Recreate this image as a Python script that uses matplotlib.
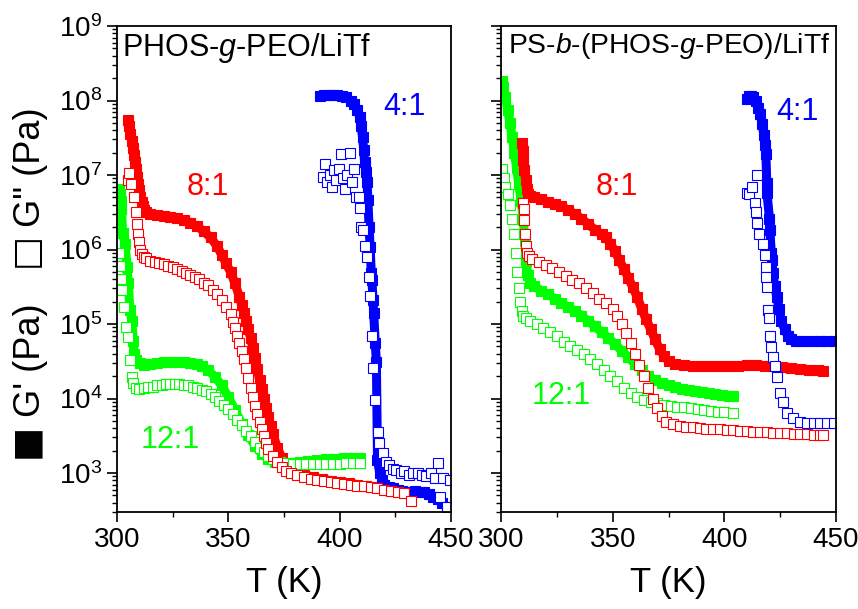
import matplotlib
matplotlib.use("Agg")
import matplotlib.pyplot as plt
from matplotlib.ticker import NullFormatter, LogFormatterMathtext

plt.rcParams['font.family'] = ['Liberation Sans', 'DejaVu Sans']
plt.rcParams['mathtext.fontset'] = 'custom'
plt.rcParams['mathtext.rm'] = 'Liberation Sans'
plt.rcParams['mathtext.it'] = 'Liberation Sans:italic'

RED, GREEN, BLUE = '#ff0000', '#00ff00', '#0000ff'

# ---- left panel: PHOS-g-PEO/LiTf ----
# 8:1
L8_T_gp = [305, 305.5, 306, 306.5, 307, 307.5, 308, 308.5, 309, 309.5, 310, 310.5, 311, 311.5, 312, 313,
           315, 318, 321, 324, 327, 330, 333, 336, 339, 342, 345, 347, 349, 351, 353, 355, 356, 357, 358,
           359, 360, 361, 362, 363, 364, 365, 366, 367, 368, 369, 370, 372, 374, 377, 380, 384, 388, 392,
           396, 400, 404, 408, 412, 416, 420, 424]
L8_gp = [5.5e7, 4.5e7, 3.6e7, 2.9e7, 2.3e7, 1.85e7, 1.5e7, 1.2e7, 9.5e6, 7.6e6, 6.2e6, 5.1e6, 4.3e6, 3.8e6,
         3.4e6, 3.2e6, 3.0e6, 2.9e6, 2.8e6, 2.75e6, 2.65e6, 2.5e6, 2.3e6, 2.05e6, 1.75e6, 1.45e6, 1.1e6,
         8.5e5, 6.5e5, 5e5, 3.5e5, 2.3e5, 1.8e5, 1.4e5, 1.1e5, 8.5e4, 6.5e4, 4.8e4, 3.5e4, 2.5e4, 1.8e4,
         1.35e4, 1.0e4, 7.5e3, 5.6e3, 4.3e3, 3.3e3, 2.2e3, 1.6e3, 1.25e3, 1.05e3, 950, 880, 830, 790, 760,
         730, 700, 670, 640, 610, 570]
L8_T_gpp = [304.8, 305.5, 306.3, 307.5, 308.3, 309, 309.5, 310, 310.5, 311, 312, 313, 315, 317, 319, 321,
            323, 325, 327, 329, 331, 333, 335, 337, 339, 341, 343, 345, 347, 349, 351, 352, 353, 354, 355,
            356, 357, 358, 359, 360, 361, 362, 363, 364, 365, 366, 367, 368, 370, 372, 374, 376, 378, 381,
            384, 387, 390, 393, 396, 399, 402, 405, 408, 411, 414, 417, 420, 423, 426, 429, 432]
L8_gpp = [8.5e6, 1.05e7, 7.5e6, 5e6, 3.2e6, 2.2e6, 1.6e6, 1.25e6, 1.0e6, 8.8e5, 8e5, 7.6e5, 7.1e5, 6.8e5,
          6.6e5, 6.3e5, 6.1e5, 5.8e5, 5.5e5, 5.2e5, 4.9e5, 4.6e5, 4.3e5, 4.0e5, 3.6e5, 3.3e5, 2.9e5, 2.5e5,
          2.1e5, 1.7e5, 1.35e5, 1.05e5, 8.8e4, 7e4, 5.6e4, 4.4e4, 3.4e4, 2.6e4, 1.9e4, 1.4e4, 1.05e4, 8e3,
          6.2e3, 4.9e3, 3.9e3, 3.1e3, 2.5e3, 2.1e3, 1.7e3, 1.4e3, 1.2e3, 1.08e3, 1.0e3, 930, 880, 840, 810,
          780, 760, 740, 720, 700, 680, 660, 640, 620, 600, 580, 560, 540, 420]
# 12:1
L12_T_gp = [301, 301.3, 301.6, 302, 302.5, 303.6, 304.5, 305, 305.8, 306.7, 307.2, 307.6, 308.5, 310.3,
            312, 315, 318, 321, 324, 327, 330, 333, 336, 338, 341, 344, 347, 350, 353, 356, 359, 362, 365,
            368, 371, 374, 378, 382, 386, 390, 394, 398, 402, 406, 409]
L12_gp = [6.5e6, 5.5e6, 4.5e6, 3.5e6, 1.66e6, 1.2e6, 5.9e5, 3.6e5, 1.55e5, 1.1e5, 6e4, 4e4, 3.3e4, 3e4,
          2.8e4, 2.9e4, 3.0e4, 3.1e4, 3.1e4, 3.1e4, 3.1e4, 3.0e4, 2.9e4, 2.7e4, 2.4e4, 1.95e4, 1.5e4,
          1.05e4, 7e3, 4.6e3, 3.2e3, 2.3e3, 1.8e3, 1.55e3, 1.42e3, 1.38e3, 1.38e3, 1.42e3, 1.45e3, 1.5e3,
          1.52e3, 1.55e3, 1.58e3, 1.6e3, 1.6e3]
L12_T_gpp = [301, 301.3, 301.8, 302.3, 303, 304, 305, 305.8, 306.7, 307.2, 308.7, 310, 312, 314, 316, 318,
             320, 322, 324, 326, 328, 330, 332, 334, 336, 338, 340, 342, 344, 346, 348, 350, 352, 354, 356,
             358, 360, 362, 364, 366, 368, 370, 373, 376, 379, 382, 385, 388, 391, 394, 397, 400, 403, 406,
             409]
L12_gpp = [9e5, 6e5, 4e5, 2.9e5, 1.7e5, 9e4, 6.7e4, 3.3e4, 1.95e4, 1.6e4, 1.4e4, 1.35e4, 1.38e4, 1.42e4,
           1.45e4, 1.5e4, 1.52e4, 1.55e4, 1.55e4, 1.55e4, 1.55e4, 1.52e4, 1.5e4, 1.45e4, 1.4e4, 1.32e4,
           1.25e4, 1.15e4, 1.05e4, 9.3e3, 8.3e3, 7.2e3, 6.2e3, 5.2e3, 4.4e3, 3.7e3, 3.1e3, 2.6e3, 2.2e3,
           1.9e3, 1.7e3, 1.55e3, 1.42e3, 1.36e3, 1.33e3, 1.32e3, 1.32e3, 1.32e3, 1.32e3, 1.33e3, 1.33e3,
           1.34e3, 1.35e3, 1.35e3, 1.35e3]
# 4:1
L4_T_gp = [391, 393, 395, 397, 399, 401, 403, 405, 406.5, 408, 409, 409.7, 410.3, 410.8, 411.2, 411.8,
           412.3, 412.7, 413.2, 413.7, 414.2, 414.5, 415, 415.3, 416, 416.5, 417, 418, 419, 420, 422, 424,
           426, 428, 430, 432, 434, 436, 438, 440, 442, 444, 446, 448, 450]
L4_gp = [1.15e8, 1.18e8, 1.2e8, 1.2e8, 1.18e8, 1.15e8, 1.1e8, 1.0e8, 9e7, 7.5e7, 6e7, 4.5e7, 3.2e7, 2.2e7,
         1.5e7, 1.1e7, 8e6, 4.6e6, 2e6, 1.07e6, 4.8e5, 3.9e5, 2.1e5, 1.4e5, 5.5e4, 3.1e4, 1.5e3, 1.0e3,
         800, 700, 650, 620, 600, 580, 560, 560, 570, 560, 550, 520, 480, 450, 400, 350, 320]
L4_T_gpp = [392.5, 393.5, 394.5, 395.5, 396.5, 397.5, 398.5, 399.5, 400.5, 401.5, 402.5, 403.5, 404.5,
            405.5, 406.5, 407.5, 408.5, 409, 409.7, 410.6, 411.5, 412.3, 413, 413.6, 414.5, 415, 415.8,
            417.2, 417.8, 419.4, 421, 422, 424, 425.5, 427.6, 429, 431, 433, 435, 437, 439, 441, 443, 444,
            445, 446.5, 448, 449.5]
L4_gpp = [9.5e6, 1.4e7, 8e6, 1.0e7, 7e6, 1.15e7, 8.5e6, 1.2e7, 1.9e7, 9e6, 6.5e6, 1.0e7, 2e7, 8e6,
          1.2e7, 5e6, 5e6, 3.6e6, 2e6, 1.8e6, 1.1e6, 7.9e5, 4.3e5, 2.4e5, 7e4, 2.6e4, 9.6e3, 3.5e3, 2.5e3,
          1.85e3, 1.4e3, 1.27e3, 1.15e3, 1.1e3, 1.0e3, 1.05e3, 950, 1.0e3, 1.0e3, 950, 900, 1.0e3, 850,
          1.35e3, 480, 850, 350, 800]

# ---- right panel: PS-b-(PHOS-g-PEO)/LiTf ----
# 8:1
R8_T_gp = [309.4, 309.7, 310, 310.5, 311, 311.5, 312, 313, 315, 318, 321, 324, 327, 330, 333, 336, 339,
           342, 345, 347, 349, 351, 353, 355, 357, 359, 361, 363, 365, 367, 369, 371, 373, 375, 378, 382,
           386, 390, 394, 398, 402, 406, 410, 414, 418, 422, 426, 430, 434, 438, 442, 444]
R8_gp = [2.7e7, 2.1e7, 1.6e7, 1.15e7, 8.5e6, 6.5e6, 5.6e6, 5.2e6, 5e6, 4.7e6, 4.4e6, 4.1e6, 3.8e6, 3.4e6,
         3e6, 2.6e6, 2.2e6, 1.85e6, 1.6e6, 1.45e6, 1.2e6, 9.5e5, 7.2e5, 5.5e5, 4.2e5, 3.1e5, 2.3e5, 1.6e5,
         1.15e5, 8.5e4, 6.2e4, 4.6e4, 3.7e4, 3.2e4, 2.9e4, 2.8e4, 2.75e4, 2.75e4, 2.75e4, 2.75e4, 2.75e4,
         2.75e4, 2.8e4, 2.8e4, 2.75e4, 2.7e4, 2.65e4, 2.6e4, 2.5e4, 2.45e4, 2.4e4, 2.35e4]
R8_T_gpp = [309.8, 310.2, 310.5, 310.7, 311, 311.5, 312.5, 314, 317, 320, 323, 326, 329, 332, 335, 338,
            341, 344, 347, 350, 352, 354, 356, 358, 360, 362, 364, 366, 368, 370, 372, 374, 377, 380, 383,
            386, 389, 392, 395, 398, 401, 404, 407, 410, 413, 416, 419, 422, 425, 428, 431, 434, 437, 440,
            443, 444]
R8_gpp = [4.2e6, 3.5e6, 2.5e6, 1.6e6, 1.1e6, 9e5, 8.2e5, 7.5e5, 6.8e5, 6.2e5, 5.6e5, 5e5, 4.4e5, 3.9e5,
          3.5e5, 3.0e5, 2.6e5, 2.2e5, 1.9e5, 1.6e5, 1.3e5, 1.0e5, 7.5e4, 5.5e4, 3.9e4, 2.8e4, 2e4, 1.4e4,
          1.0e4, 7.5e3, 5.8e3, 4.9e3, 4.5e3, 4.3e3, 4.2e3, 4.1e3, 4.0e3, 3.95e3, 3.9e3, 3.85e3, 3.8e3,
          3.75e3, 3.7e3, 3.65e3, 3.6e3, 3.55e3, 3.5e3, 3.48e3, 3.45e3, 3.4e3, 3.38e3, 3.35e3, 3.3e3, 3.28e3,
          3.25e3, 3.25e3]
# 12:1
R12_T_gp = [300.3, 301, 302, 303, 304, 305, 306, 307, 308, 309, 310, 310.7, 311.3, 312, 313, 315, 318,
            321, 324, 327, 330, 333, 336, 339, 342, 345, 348, 351, 354, 357, 360, 363, 366, 369, 372, 375,
            378, 381, 384, 387, 390, 393, 396, 399, 402, 404]
R12_gp = [1.8e8, 1.5e8, 1.1e8, 7.5e7, 5e7, 3.2e7, 2e7, 1.25e7, 7.5e6, 4.5e6, 2.5e6, 1.3e6, 7e5, 4.5e5,
          3.6e5, 3.2e5, 2.8e5, 2.5e5, 2.2e5, 1.9e5, 1.7e5, 1.5e5, 1.3e5, 1.1e5, 9.3e4, 7.8e4, 6.5e4, 5.4e4,
          4.4e4, 3.6e4, 2.9e4, 2.4e4, 2.0e4, 1.75e4, 1.6e4, 1.5e4, 1.42e4, 1.36e4, 1.3e4, 1.25e4, 1.21e4,
          1.17e4, 1.14e4, 1.11e4, 1.09e4, 1.08e4]
R12_T_gpp = [300.4, 301.2, 302, 303, 304, 305, 305.8, 306.5, 307.2, 308, 308.7, 309.4, 310, 311, 313, 316,
             319, 322, 325, 328, 331, 334, 337, 340, 343, 346, 349, 352, 355, 358, 361, 364, 367, 370, 373,
             376, 379, 382, 385, 388, 391, 394, 397, 400, 404]
R12_gpp = [1.2e7, 9e6, 7e6, 5.5e6, 4e6, 2.6e6, 1.6e6, 9e5, 5e5, 3e5, 2e5, 1.5e5, 1.3e5, 1.2e5, 1.1e5,
           1.0e5, 8.8e4, 7.8e4, 6.8e4, 5.8e4, 5e4, 4.5e4, 4e4, 3.4e4, 2.9e4, 2.4e4, 2.0e4, 1.7e4, 1.4e4,
           1.2e4, 1.05e4, 9.6e3, 9e3, 8.6e3, 8.3e3, 8e3, 7.8e3, 7.6e3, 7.4e3, 7.2e3, 7e3, 6.8e3, 6.6e3,
           6.5e3, 6.3e3]
# 4:1
R4_T_gp = [410, 411, 412, 413, 414, 415, 416, 417, 417.7, 418.2, 418.6, 419, 419.1, 420.2, 420.4, 421,
           421.3, 421.8, 422.5, 423.5, 424.5, 425.5, 427, 428.5, 430, 432, 434, 437, 440, 443, 446, 449]
R4_gp = [1.05e8, 1.15e8, 1.15e8, 1.1e8, 1.0e8, 8e7, 6.5e7, 4.8e7, 3.4e7, 2.5e7, 1.9e7, 7.8e6, 5.7e6,
         2.6e6, 1.8e6, 9e5, 7.2e5, 4.8e5, 3.2e5, 2.3e5, 1.6e5, 1.1e5, 8.5e4, 6.8e4, 6.2e4, 6e4, 5.9e4,
         5.9e4, 5.9e4, 5.9e4, 5.9e4, 5.9e4]
R4_T_gpp = [410.2, 411.2, 412.4, 413.7, 414.0, 414.6, 414.6, 415.5, 417.3, 418, 418.5, 418.8, 419.2, 419.6,
            420.0, 420.5, 421.1, 421.8, 422.6, 423.6, 424.9, 426.3, 428.1, 430.8, 433.9, 437, 440, 443,
            446, 449]
R4_gpp = [5.8e6, 5.5e6, 6.9e6, 4.2e6, 3.2e6, 1e7, 2.3e6, 1.6e6, 1.2e6, 8.5e5, 5.9e5, 4.3e5, 3.1e5, 1.55e5,
          1.2e5, 7e4, 4.9e4, 3.6e4, 2.7e4, 1.95e4, 1.17e4, 8.9e3, 6.3e3, 5.5e3, 4.8e3, 4.7e3, 4.7e3,
          4.7e3, 4.7e3, 4.7e3]

y_major = [1e3, 1e4, 1e5, 1e6, 1e7, 1e8, 1e9]

panels = [
    ('PHOS-$g$-PEO/LiTf', 0.015, 22,
     [(L12_T_gp, L12_gp, L12_T_gpp, L12_gpp, GREEN),
      (L8_T_gp, L8_gp, L8_T_gpp, L8_gpp, RED),
      (L4_T_gp, L4_gp, L4_T_gpp, L4_gpp, BLUE)],
     [('8:1', 341, 6.8e6, RED), ('12:1', 324, 2.8e3, GREEN), ('4:1', 429, 8.1e7, BLUE)]),
    ('PS-$b$-(PHOS-$g$-PEO)/LiTf', 0.02, 20.3,
     [(R12_T_gp, R12_gp, R12_T_gpp, R12_gpp, GREEN),
      (R8_T_gp, R8_gp, R8_T_gpp, R8_gpp, RED),
      (R4_T_gp, R4_gp, R4_T_gpp, R4_gpp, BLUE)],
     [('8:1', 352, 6.8e6, RED), ('12:1', 327, 1.07e4, GREEN), ('4:1', 432.5, 7e7, BLUE)]),
]

fig = plt.figure(figsize=(8.58, 6.09), dpi=100)
ax1 = fig.add_axes([0.1364, 0.1593, 0.3892, 0.798])
ax2 = fig.add_axes([0.5839, 0.1593, 0.3905, 0.798])

for ax, (title, tx, tsize, series, labels) in zip([ax1, ax2], panels):
    for T1, gp, T2, gpp, c in series:
        ax.plot(T1, gp, '-', color=c, lw=6.5, solid_capstyle='butt')
        ax.plot(T1, gp, 's', color=c, ms=6.5, mec=c, mew=0.8)
    for T1, gp, T2, gpp, c in series:
        ax.plot(T2, gpp, 's', ms=6.5, mfc='white', mec=c, mew=0.8)
    for txt, x, y, c in labels:
        ax.text(x, y, txt, color=c, fontsize=22, ha='center', va='center')
    ax.text(tx, 0.99, title, transform=ax.transAxes, fontsize=tsize, va='top', ha='left')
    ax.set_yscale('log')
    ax.set_xlim(300, 450)
    ax.set_ylim(300, 1e9)
    ax.set_yticks(y_major)
    ax.yaxis.set_major_formatter(LogFormatterMathtext())
    ax.yaxis.set_minor_formatter(NullFormatter())
    ax.set_xticks([300, 350, 400, 450])
    ax.set_xticks([325, 375, 425], minor=True)
    ax.tick_params(which='major', direction='out', length=7, width=1.2, labelsize=20,
                   top=False, right=False)
    ax.tick_params(which='minor', direction='out', length=3.5, width=1.0, top=False, right=False)
    for s in ax.spines.values():
        s.set_linewidth(1.3)
    ax.set_xlabel('T (K)', fontsize=25, labelpad=10)

ax2.tick_params(axis='y', which='both', labelleft=False)

# y label pieces: filled square = G', open square = G''
fig.text(0.0297, 1 - 441 / 609, '\u25a0', rotation=90, fontsize=26, ha='center', va='center',
         family='DejaVu Sans')
fig.text(0.036, 1 - 360 / 609, "G' (Pa)", rotation=90, fontsize=26, ha='center', va='center')
fig.text(0.0297, 1 - 250 / 609, '\u25a1', rotation=90, fontsize=26, ha='center', va='center',
         family='DejaVu Sans')
fig.text(0.036, 1 - 167 / 609, 'G" (Pa)', rotation=90, fontsize=26, ha='center', va='center')

fig.savefig('out.png', dpi=100)
